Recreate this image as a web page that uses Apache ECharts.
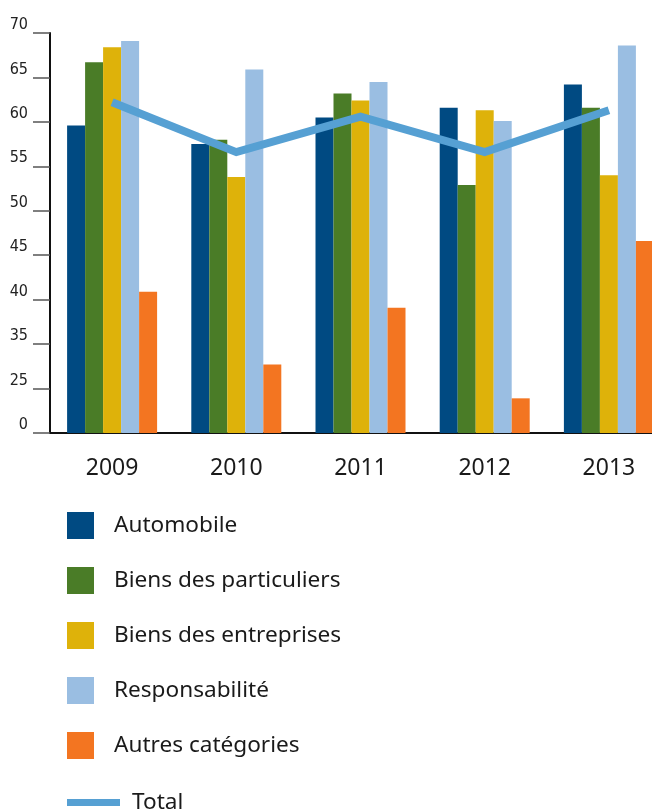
<!DOCTYPE html>
<html>
<head>
<meta charset="utf-8">
<script src="https://cdn.jsdelivr.net/npm/echarts@6/dist/echarts.min.js"></script>
<style>
  html, body { margin: 0; padding: 0; background: #fff; overflow: hidden; }
  #chart { width: 672px; height: 812px; }
</style>
</head>
<body>
<div id="chart"></div>
<script>
// Years on the category axis
const years = ['2009', '2010', '2011', '2012', '2013'];

// Series values by line of business
const automobile = [59.6, 57.5, 60.5, 61.6, 64.2];
const biensParticuliers = [66.7, 58.0, 63.2, 52.9, 61.6];
const biensEntreprises = [68.4, 53.8, 62.4, 61.3, 54.0];
const responsabilite = [69.1, 65.9, 64.5, 60.1, 68.6];
const autresCategories = [40.9, 32.7, 39.1, 28.9, 46.6];
const total = [62.2, 56.6, 60.6, 56.6, 61.3];

// Value-axis labels, bottom to top
const yTickLabels = ['0', '25', '35', '40', '45', '50', '55', '60', '65', '70'];
const yMin = 25, yMax = 70, yStep = 5;

const barNames = ['Automobile', 'Biens des particuliers', 'Biens des entreprises', 'Responsabilité', 'Autres catégories'];
const barData = [automobile, biensParticuliers, biensEntreprises, responsabilite, autresCategories];
const barColors = ['#004a82', '#4a7c27', '#deb20a', '#9abee2', '#f37521'];

const font = '"Noto Sans", "Open Sans", sans-serif';

const series = barNames.map((name, i) => ({
  name: name,
  type: 'bar',
  data: barData[i],
  barWidth: 18,
  barGap: '0%',
  itemStyle: { color: barColors[i] },
  z: 2
}));

series.push({
  name: 'Total',
  type: 'line',
  data: total,
  symbol: 'none',
  lineStyle: { color: '#56a0d3', width: 8, cap: 'butt', join: 'miter' },
  itemStyle: { color: '#56a0d3' },
  z: 5
});

const chart = echarts.init(document.getElementById('chart'), null, { renderer: 'canvas' });
chart.setOption({
  animation: false,
  backgroundColor: '#ffffff',
  grid: { left: 50, right: 1, top: 33, bottom: 379, containLabel: false },
  xAxis: {
    type: 'category',
    data: years,
    axisLine: { show: true, lineStyle: { color: '#111', width: 2 } },
    axisTick: { show: false },
    axisLabel: { color: '#1a1a1a', fontFamily: font, fontSize: 23, margin: 24 }
  },
  yAxis: {
    type: 'value',
    min: yMin,
    max: yMax,
    interval: yStep,
    splitLine: { show: false },
    axisLine: { show: true, lineStyle: { color: '#111', width: 2 } },
    axisTick: { show: true, length: 17, lineStyle: { color: '#555', width: 1.5 } },
    axisLabel: {
      color: '#222',
      fontFamily: '"Liberation Sans Narrow", "DejaVu Sans Condensed", sans-serif',
      fontSize: 16,
      margin: 22,
      verticalAlign: 'bottom',
      formatter: (v) => yTickLabels[Math.round((v - yMin) / yStep)]
    }
  },
  legend: [
    {
      data: barNames,
      orient: 'vertical',
      left: 67,
      top: 512,
      padding: 0,
      itemWidth: 27,
      itemHeight: 27,
      itemGap: 28,
      icon: 'rect',
      textStyle: { fontFamily: font, fontSize: 22.6, color: '#1a1a1a', padding: [0, 0, 0, 15] }
    },
    {
      data: ['Total'],
      orient: 'vertical',
      left: 67,
      top: 791,
      padding: 0,
      itemWidth: 53,
      itemHeight: 7,
      icon: 'rect',
      textStyle: { fontFamily: font, fontSize: 22.6, color: '#1a1a1a', padding: [0, 0, 12, 7] }
    }
  ],
  series: series
});
</script>
</body>
</html>
